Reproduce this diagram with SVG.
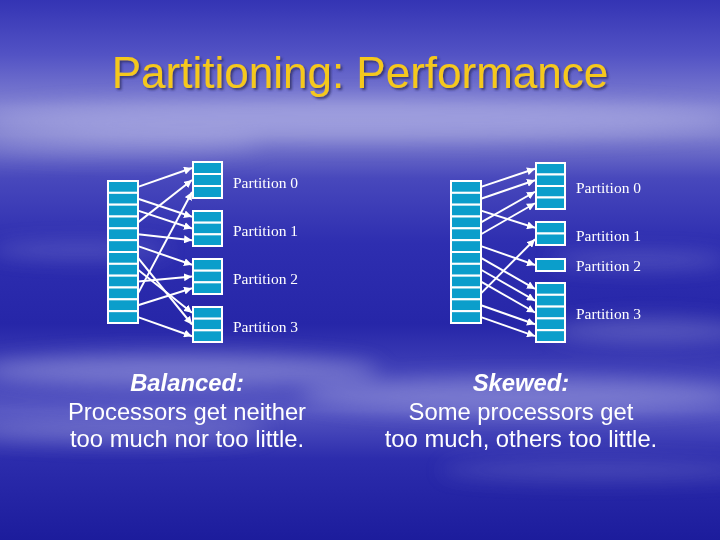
<svg xmlns="http://www.w3.org/2000/svg" width="720" height="540" viewBox="0 0 720 540">
<defs>
<linearGradient id="bg" x1="0" y1="0" x2="0" y2="1">
<stop offset="0" stop-color="#3434b4"/>
<stop offset="0.1" stop-color="#5252c4"/>
<stop offset="0.2" stop-color="#8282d2"/>
<stop offset="0.25" stop-color="#7e7ece"/>
<stop offset="0.33" stop-color="#4848bc"/>
<stop offset="0.45" stop-color="#2e2eb0"/>
<stop offset="0.6" stop-color="#2626a8"/>
<stop offset="0.68" stop-color="#3e3eb6"/>
<stop offset="0.76" stop-color="#5656c2"/>
<stop offset="0.85" stop-color="#2c2cac"/>
<stop offset="1" stop-color="#1c1c9c"/>
</linearGradient>
<filter id="blur" x="-50%" y="-50%" width="200%" height="200%"><feGaussianBlur stdDeviation="10"/></filter>
<filter id="shadow" x="-10%" y="-20%" width="120%" height="140%"><feDropShadow dx="2" dy="2" stdDeviation="0.8" flood-color="#333366" flood-opacity="0.8"/></filter>
<marker id="ah" viewBox="0 0 10 10" refX="10" refY="5" markerWidth="8" markerHeight="8" markerUnits="userSpaceOnUse" orient="auto">
<path d="M0,0 L10,5 L0,10 Z" fill="#ffffff"/>
</marker>
<style>
.cell{fill:#0b9ecb;stroke:#ffffff;stroke-width:2}
.conn{stroke:#ffffff;stroke-width:2;fill:none;marker-end:url(#ah)}
.plabel{font-family:"Liberation Serif","Times New Roman",serif;font-size:15.5px;fill:#ffffff}
.title{font-family:"Liberation Sans",Arial,sans-serif;font-size:44px;fill:#f5c81a}
.cap{font-family:"Liberation Sans",Arial,sans-serif;font-size:23.8px;fill:#ffffff;text-anchor:middle}
.capb{font-weight:bold;font-style:italic}
</style>
</defs>
<g id="background">
<rect x="0" y="0" width="720" height="540" fill="url(#bg)"/>
<g filter="url(#blur)" fill="#c8c8f0">
<ellipse cx="360" cy="120" rx="380" ry="20" opacity="0.4"/>
<ellipse cx="120" cy="145" rx="140" ry="10" opacity="0.3"/>
<ellipse cx="80" cy="250" rx="90" ry="8" opacity="0.25"/>
<ellipse cx="640" cy="260" rx="90" ry="8" opacity="0.25"/>
<ellipse cx="180" cy="370" rx="200" ry="16" opacity="0.4"/>
<ellipse cx="520" cy="395" rx="220" ry="18" opacity="0.35"/>
<ellipse cx="120" cy="430" rx="150" ry="12" opacity="0.3"/>
<ellipse cx="650" cy="330" rx="100" ry="12" opacity="0.3"/>
<ellipse cx="600" cy="470" rx="160" ry="10" opacity="0.2"/>
</g>
</g>
<g id="title">
<text class="title" x="360" y="88" text-anchor="middle" filter="url(#shadow)">Partitioning: Performance</text>
</g>
<g id="connectors">
<line class="conn" x1="138" y1="186.9" x2="192" y2="168"/>
<line class="conn" x1="138" y1="198.75" x2="192" y2="216.8"/>
<line class="conn" x1="138" y1="210.6" x2="192" y2="228.5"/>
<line class="conn" x1="138" y1="222.4" x2="192" y2="180"/>
<line class="conn" x1="138" y1="234.25" x2="192" y2="240.2"/>
<line class="conn" x1="138" y1="246.1" x2="192" y2="264.8"/>
<line class="conn" x1="138" y1="257.9" x2="192" y2="324.5"/>
<line class="conn" x1="138" y1="269.75" x2="192" y2="312.8"/>
<line class="conn" x1="138" y1="281.6" x2="192" y2="276.5"/>
<line class="conn" x1="138" y1="293.4" x2="192" y2="192"/>
<line class="conn" x1="138" y1="305.25" x2="192" y2="288.2"/>
<line class="conn" x1="138" y1="317.1" x2="192" y2="336.2"/>
<line class="conn" x1="481" y1="186.9" x2="535" y2="168.75"/>
<line class="conn" x1="481" y1="198.75" x2="535" y2="180.25"/>
<line class="conn" x1="481" y1="210.6" x2="535" y2="227.75"/>
<line class="conn" x1="481" y1="222.4" x2="535" y2="191.75"/>
<line class="conn" x1="481" y1="234.25" x2="535" y2="203.25"/>
<line class="conn" x1="481" y1="246.1" x2="535" y2="265"/>
<line class="conn" x1="481" y1="257.9" x2="535" y2="288.9"/>
<line class="conn" x1="481" y1="269.75" x2="535" y2="300.7"/>
<line class="conn" x1="481" y1="281.6" x2="535" y2="312.5"/>
<line class="conn" x1="481" y1="293.4" x2="535" y2="239.25"/>
<line class="conn" x1="481" y1="305.25" x2="535" y2="324.3"/>
<line class="conn" x1="481" y1="317.1" x2="535" y2="336.1"/>
</g>
<g id="left-processors">
<rect class="cell" x="108" y="181" width="30" height="11.83"/>
<rect class="cell" x="108" y="192.83" width="30" height="11.83"/>
<rect class="cell" x="108" y="204.67" width="30" height="11.83"/>
<rect class="cell" x="108" y="216.5" width="30" height="11.83"/>
<rect class="cell" x="108" y="228.33" width="30" height="11.83"/>
<rect class="cell" x="108" y="240.17" width="30" height="11.83"/>
<rect class="cell" x="108" y="252" width="30" height="11.83"/>
<rect class="cell" x="108" y="263.83" width="30" height="11.83"/>
<rect class="cell" x="108" y="275.67" width="30" height="11.83"/>
<rect class="cell" x="108" y="287.5" width="30" height="11.83"/>
<rect class="cell" x="108" y="299.33" width="30" height="11.83"/>
<rect class="cell" x="108" y="311.17" width="30" height="11.83"/>
</g>
<g id="left-partition-0">
<rect class="cell" x="193" y="162" width="29" height="12"/>
<rect class="cell" x="193" y="174" width="29" height="12"/>
<rect class="cell" x="193" y="186" width="29" height="12"/>
<text class="plabel" x="233" y="188">Partition 0</text>
</g>
<g id="left-partition-1">
<rect class="cell" x="193" y="211" width="29" height="11.67"/>
<rect class="cell" x="193" y="222.67" width="29" height="11.67"/>
<rect class="cell" x="193" y="234.33" width="29" height="11.67"/>
<text class="plabel" x="233" y="236">Partition 1</text>
</g>
<g id="left-partition-2">
<rect class="cell" x="193" y="259" width="29" height="11.67"/>
<rect class="cell" x="193" y="270.67" width="29" height="11.67"/>
<rect class="cell" x="193" y="282.33" width="29" height="11.67"/>
<text class="plabel" x="233" y="284">Partition 2</text>
</g>
<g id="left-partition-3">
<rect class="cell" x="193" y="307" width="29" height="11.67"/>
<rect class="cell" x="193" y="318.67" width="29" height="11.67"/>
<rect class="cell" x="193" y="330.33" width="29" height="11.67"/>
<text class="plabel" x="233" y="332">Partition 3</text>
</g>
<g id="right-processors">
<rect class="cell" x="451" y="181" width="30" height="11.83"/>
<rect class="cell" x="451" y="192.83" width="30" height="11.83"/>
<rect class="cell" x="451" y="204.67" width="30" height="11.83"/>
<rect class="cell" x="451" y="216.5" width="30" height="11.83"/>
<rect class="cell" x="451" y="228.33" width="30" height="11.83"/>
<rect class="cell" x="451" y="240.17" width="30" height="11.83"/>
<rect class="cell" x="451" y="252" width="30" height="11.83"/>
<rect class="cell" x="451" y="263.83" width="30" height="11.83"/>
<rect class="cell" x="451" y="275.67" width="30" height="11.83"/>
<rect class="cell" x="451" y="287.5" width="30" height="11.83"/>
<rect class="cell" x="451" y="299.33" width="30" height="11.83"/>
<rect class="cell" x="451" y="311.17" width="30" height="11.83"/>
</g>
<g id="right-partition-0">
<rect class="cell" x="536" y="163" width="29" height="11.5"/>
<rect class="cell" x="536" y="174.5" width="29" height="11.5"/>
<rect class="cell" x="536" y="186" width="29" height="11.5"/>
<rect class="cell" x="536" y="197.5" width="29" height="11.5"/>
<text class="plabel" x="576" y="193">Partition 0</text>
</g>
<g id="right-partition-1">
<rect class="cell" x="536" y="222" width="29" height="11.5"/>
<rect class="cell" x="536" y="233.5" width="29" height="11.5"/>
<text class="plabel" x="576" y="241">Partition 1</text>
</g>
<g id="right-partition-2">
<rect class="cell" x="536" y="259" width="29" height="12"/>
<text class="plabel" x="576" y="271">Partition 2</text>
</g>
<g id="right-partition-3">
<rect class="cell" x="536" y="283" width="29" height="11.8"/>
<rect class="cell" x="536" y="294.8" width="29" height="11.8"/>
<rect class="cell" x="536" y="306.6" width="29" height="11.8"/>
<rect class="cell" x="536" y="318.4" width="29" height="11.8"/>
<rect class="cell" x="536" y="330.2" width="29" height="11.8"/>
<text class="plabel" x="576" y="319">Partition 3</text>
</g>
<g id="caption-balanced">
<text class="cap capb" x="187" y="391">Balanced:</text>
<text class="cap" x="187" y="420">Processors get neither</text>
<text class="cap" x="187" y="447">too much nor too little.</text>
</g>
<g id="caption-skewed">
<text class="cap capb" x="521" y="391">Skewed:</text>
<text class="cap" x="521" y="420">Some processors get</text>
<text class="cap" x="521" y="447">too much, others too little.</text>
</g>
</svg>
